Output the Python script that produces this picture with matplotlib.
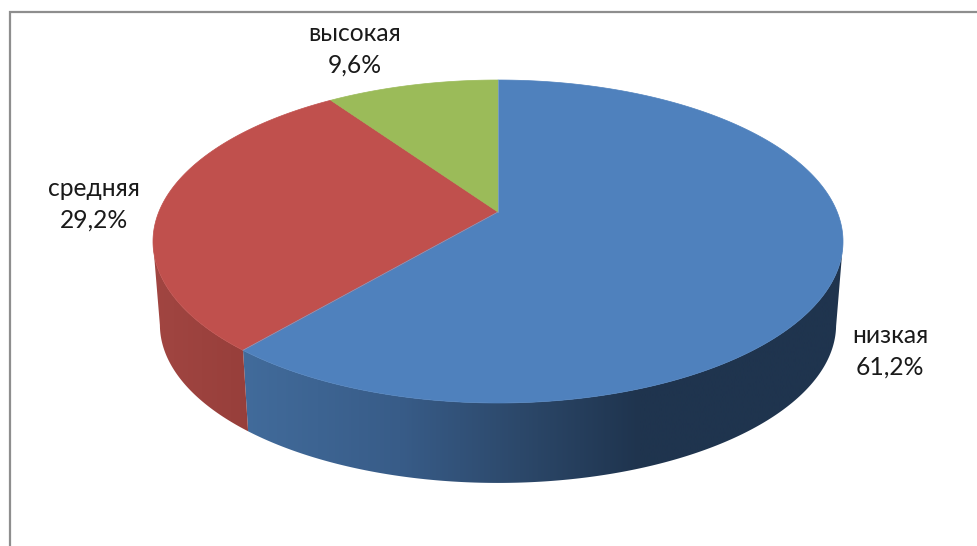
import numpy as np
import matplotlib
matplotlib.use("Agg")
import matplotlib.pyplot as plt
from matplotlib.colors import LinearSegmentedColormap
from matplotlib.patches import Polygon

plt.rcParams['font.family'] = ['Lato', 'Noto Sans', 'DejaVu Sans']

# Shares of each level, clockwise from twelve o'clock
levels = ["низкая", "средняя", "высокая"]
shares = [61.2, 29.2, 9.6]

top_colors = ["#4F81BD", "#C0504D", "#9BBB59"]

# Wall shading as colour stops along the horizontal pixel position
wall_x = [[235, 400, 520, 640, 850], [145, 260]]
wall_rgb = [
    [(66, 108, 156), (56, 92, 136), (44, 72, 106), (31, 52, 78), (31, 52, 78)],
    [(162, 70, 66), (150, 62, 58)],
]

label_pos = [(890, 351), (94, 204), (355, 49)]

# Perspective of the disc: centre, half sizes and tilt
CX, CY = 498, 212
A, B, K = 339.2, 156.1, 0.1827
# Lower face is a slightly smaller copy, shrunk towards the far vanishing point
VY = 4400
SCALE = 0.98


def top_edge(theta):
    u, v = np.sin(theta), np.cos(theta)
    w = 1 + K * v
    return CX + A * u / w, CY - B * v / w


def bottom_edge(theta):
    x, y = top_edge(theta)
    return CX + (x - CX) * SCALE, VY - (VY - y) * SCALE


fig = plt.figure(figsize=(9.78, 5.46), dpi=100)
ax = fig.add_axes([0, 0, 1, 1])

# Chart frame, open on the right and at the bottom
ax.plot([10, 10, 978], [546, 12, 12], color="#8E8E8E", lw=1.6, solid_joinstyle="miter")

bounds = np.radians(np.cumsum([0] + shares) * 3.6)

# Side wall: a horizontal gradient clipped to the outline of each slice
for i, (start, end) in enumerate(zip(bounds[:-1], bounds[1:])):
    if i >= len(wall_x):
        continue
    thetas = np.linspace(start, end, 400)
    thetas = thetas[top_edge(thetas)[1] >= 241.5]
    tx, ty = top_edge(thetas)
    bx, by = bottom_edge(thetas)
    outline = np.column_stack([np.r_[tx, bx[::-1]], np.r_[ty, by[::-1]]])
    shape = Polygon(outline, closed=True, facecolor="none", edgecolor="none", zorder=1)
    ax.add_patch(shape)

    x0, x1 = wall_x[i][0], wall_x[i][-1]
    stops = [(x - x0) / (x1 - x0) for x in wall_x[i]]
    cmap = LinearSegmentedColormap.from_list(
        f"wall{i}", [(s, np.array(c) / 255) for s, c in zip(stops, wall_rgb[i])]
    )
    grad = ax.imshow(
        np.linspace(0, 1, 256)[None, :],
        cmap=cmap,
        extent=[x0, x1, 546, 0],
        aspect="auto",
        interpolation="bilinear",
        zorder=2,
    )
    grad.set_clip_path(shape)

ax.set_xlim(0, 978)
ax.set_ylim(546, 0)
ax.axis("off")

# Top face of the pie
for i, (start, end) in enumerate(zip(bounds[:-1], bounds[1:])):
    thetas = np.linspace(start, end, 300)
    x, y = top_edge(thetas)
    pts = np.column_stack([np.r_[CX, x], np.r_[CY, y]])
    ax.add_patch(Polygon(pts, closed=True, facecolor=top_colors[i], edgecolor=top_colors[i], lw=0.5, zorder=3))

# Thin light seams on the blue slice's borders
for b in bounds[:2]:
    x, y = top_edge(b)
    ax.plot([CX, x], [CY, y], color="#7FA3D0", lw=0.5, zorder=4)

for name, share, (lx, ly) in zip(levels, shares, label_pos):
    text = f"{name}\n{share:.1f}%".replace(".", ",")
    ax.text(lx, ly, text, ha="center", va="center", fontsize=17.7, color="#1A1A1A", linespacing=1.46)

fig.savefig("out.png", dpi=100)
